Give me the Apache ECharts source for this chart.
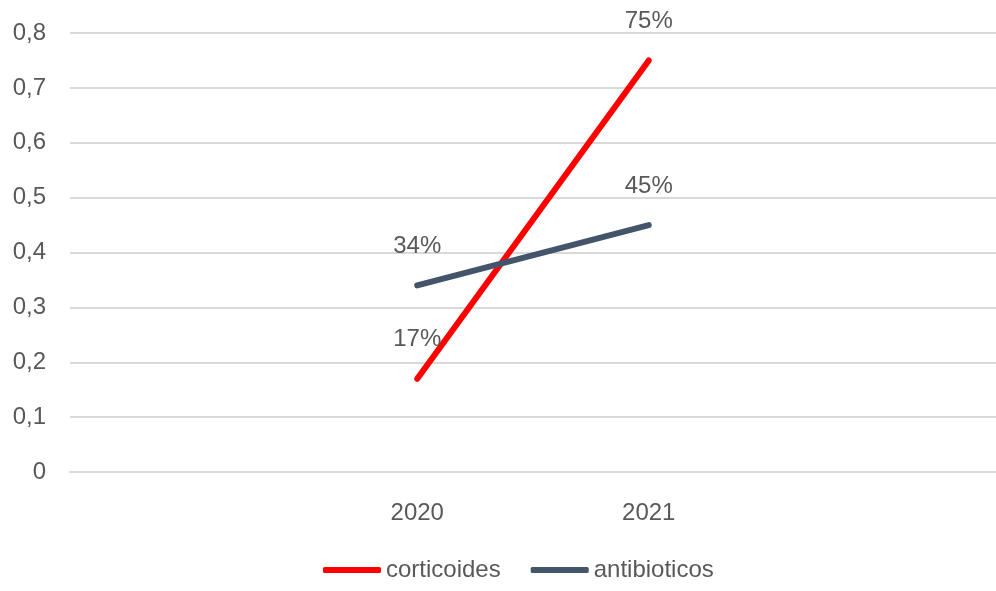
<!DOCTYPE html>
<html>
<head>
<meta charset="utf-8">
<script src="https://cdn.jsdelivr.net/npm/echarts@6/dist/echarts.min.js"></script>
<style>
  html, body { margin: 0; padding: 0; background: #fff; }
  #chart { width: 996px; height: 591px; }
</style>
</head>
<body>
<div id="chart"></div>
<script>
// empty slots on both sides so the two years sit in the middle like the original
const categories = ['', '2020', '2021', '']
const corticoides = [null, 0.17, 0.75, null]
const antibioticos = [null, 0.34, 0.45, null]

const font = "'Liberation Sans', Arial, sans-serif"
const textColor = '#595959'

const chart = echarts.init(document.getElementById('chart'))

function pct(p) {
  return Math.round(p.value * 100) + '%'
}

function lineSeries(name, values, color) {
  return {
    name: name,
    type: 'line',
    data: values,
    symbol: 'circle',
    symbolSize: 0,
    showSymbol: true,
    itemStyle: { color: color },
    lineStyle: { color: color, width: 6, cap: 'round' },
    label: {
      show: true,
      position: 'top',
      distance: 27,
      formatter: pct,
      fontFamily: font,
      fontSize: 24,
      color: textColor
    }
  }
}

chart.setOption({
  animation: false,
  textStyle: { fontFamily: font },
  grid: { left: 70, width: 932, top: 33, bottom: 119 },
  legend: {
    bottom: 4,
    left: 318,
    icon: 'roundRect',
    itemWidth: 58,
    itemHeight: 6,
    itemGap: 30,
    textStyle: { fontFamily: font, fontSize: 24, color: textColor },
    data: ['corticoides', 'antibioticos']
  },
  xAxis: {
    type: 'category',
    data: categories,
    boundaryGap: true,
    axisLine: { lineStyle: { color: '#D9D9D9', width: 2 } },
    axisTick: { show: false },
    axisLabel: { fontFamily: font, fontSize: 24, color: textColor, margin: 29 }
  },
  yAxis: {
    type: 'value',
    min: 0,
    max: 0.8,
    interval: 0.1,
    axisLine: { show: false },
    axisTick: { show: false },
    splitLine: { lineStyle: { color: '#D9D9D9', width: 2 } },
    axisLabel: {
      fontFamily: font,
      fontSize: 24,
      color: textColor,
      margin: 24,
      formatter: v => (v === 0 ? '0' : v.toFixed(1).replace('.', ','))
    }
  },
  series: [
    lineSeries('corticoides', corticoides, '#FF0000'),
    lineSeries('antibioticos', antibioticos, '#44546A')
  ]
})
</script>
</body>
</html>
